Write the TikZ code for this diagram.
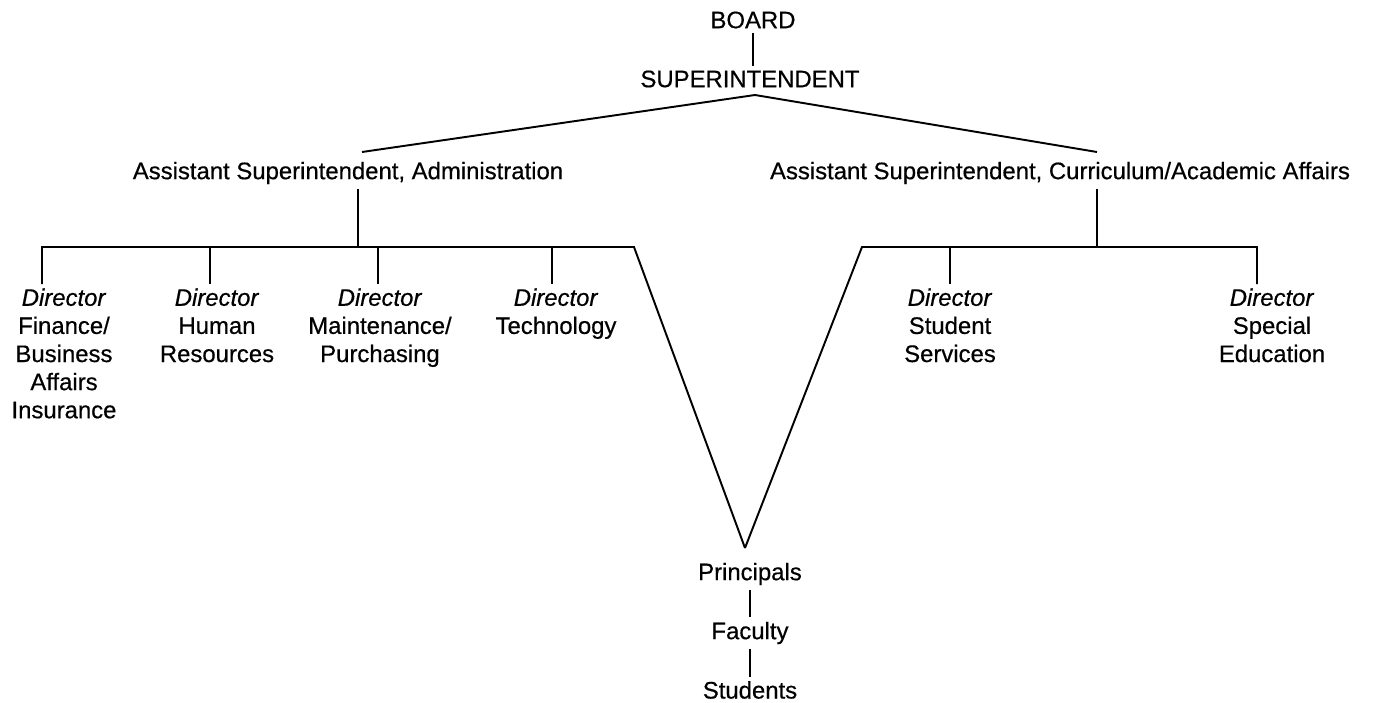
\documentclass[tikz,border=0pt]{standalone}
\usepackage{fontspec}
\setmainfont{Liberation Sans}[FakeBold=0.5]
\begin{document}
\begin{tikzpicture}[x=0.02cm,y=-0.02cm,line width=1.1pt,
	every node/.style={font=\fontsize{13.6}{16}\selectfont,inner sep=2pt},
	dirbox/.style={anchor=north,align=center}]
	%\draw[help lines] (0,0) grid[step=50] (1377,703);
	\useasboundingbox (0,0) rectangle (1377,703);
	\node (board) at (753,20) {BOARD};
	\node (supt) at (750,79) {SUPERINTENDENT};
	\node (asstadm) at (348,173) {Assistant Superintendent, Administration};
	\node (asstcur) at (1060,173) {Assistant Superintendent, Curriculum/Academic Affairs};
	\node[dirbox] (dirfin) at (64,284) {\textit{Director}\\Finance/\\Business\\Affairs\\Insurance};
	\node[dirbox] (dirhr) at (217,284) {\textit{Director}\\Human\\Resources};
	\node[dirbox] (dirmnt) at (380,284) {\textit{Director}\\Maintenance/\\Purchasing};
	\node[dirbox] (dirtech) at (556,284) {\textit{Director}\\Technology};
	\node[dirbox] (dirss) at (950,284) {\textit{Director}\\Student\\Services};
	\node[dirbox] (dirsped) at (1272,284) {\textit{Director}\\Special\\Education};
	\node (prin) at (750,574) {Principals};
	\node (fac) at (750,633) {Faculty};
	\node (stud) at (750,690) {Students};
	\coordinate (roofL) at (362,152);
	\coordinate (roofTop) at (755,95);
	\coordinate (roofR) at (1097,152);
	\coordinate (admjoin) at (358,247);
	\coordinate (curjoin) at (1097,247);
	\coordinate (barL) at (42,247);
	\coordinate (barR) at (634,247);
	\coordinate (barL2) at (862,247);
	\coordinate (barR2) at (1257,247);
	\coordinate (vtip) at (745,548);
	% top
	\draw (board.south) -- (board.south |- supt.north);
	\draw (roofL) -- (roofTop) -- (roofR);
	% administration side
	\draw (asstadm.south -| admjoin) -- (admjoin);
	\draw (barL |- dirfin.north) -- (barL) -- (barR) -- (vtip);
	\foreach \n/\x in {dirhr/210,dirmnt/378,dirtech/552}
		\draw (\x,247) -- (\n.north -| \x,0);
	% curriculum side
	\draw (asstcur.south -| curjoin) -- (curjoin);
	\draw (vtip) -- (barL2) -- (barR2) -- (barR2 |- dirsped.north);
	\draw (950,247) -- (dirss.north -| 950,0);
	% schools
	\draw (prin) -- (fac);
	\draw (fac) -- (stud);
\end{tikzpicture}
\end{document}
